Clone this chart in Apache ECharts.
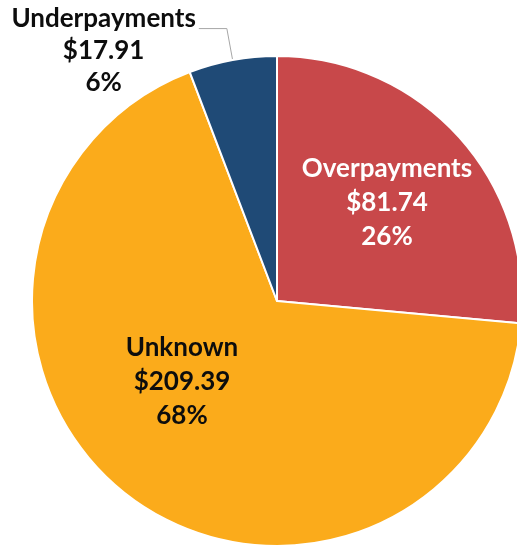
<!DOCTYPE html>
<html>
<head>
<meta charset="utf-8">
<script src="https://cdn.jsdelivr.net/npm/echarts@6/dist/echarts.min.js"></script>
<style>
  html, body { margin: 0; padding: 0; background: #fff; }
  #chart { width: 517px; height: 547px; }
</style>
</head>
<body>
<div id="chart"></div>
<script>
// payment categories and amounts
var categories = ['Overpayments', 'Unknown', 'Underpayments'];
var amounts = [81.74, 209.39, 17.91];
var percents = ['26%', '68%', '6%'];
var colors = ['#C8484A', '#FBAB1B', '#1F4A76'];
var textColors = ['#ffffff', '#0d0d0d', '#0d0d0d'];

var chart = echarts.init(document.getElementById('chart'));

var textStyle = { fontFamily: 'Lato', fontWeight: 'bold', fontSize: 26, lineHeight: 32, align: 'center', color: '#0d0d0d' };

var seriesData = categories.map(function (name, i) {
    var item = {
        name: name,
        value: amounts[i],
        itemStyle: { color: colors[i] },
        label: { color: textColors[i] }
    };
    if (i === 2) {
        // outside label; a spacer line on top lifts the first line to the leader line
        item.label = {
            position: 'outside',
            distanceToLabelLine: 3,
            formatter: function (p) {
                return '{s| }\n{t|' + p.name + '}\n{t|$' + p.value.toFixed(2) + '}\n{t|' + percents[p.dataIndex] + '}';
            },
            rich: {
                s: { lineHeight: 44, fontSize: 10 },
                t: textStyle
            }
        };
        item.labelLine = { show: true, length: 32, length2: 28, lineStyle: { color: '#A6A6A6', width: 1 } };
    }
    return item;
});

var option = {
    animation: false,
    series: [{
        type: 'pie',
        radius: 245,
        center: [277, 301],
        startAngle: 90,
        clockwise: true,
        avoidLabelOverlap: false,
        itemStyle: { borderColor: '#ffffff', borderWidth: 2 },
        label: {
            show: true,
            position: 'inside',
            fontFamily: 'Lato',
            fontWeight: 'bold',
            fontSize: 26,
            lineHeight: 34,
            align: 'center',
            formatter: function (p) {
                return p.name + '\n$' + p.value.toFixed(2) + '\n' + percents[p.dataIndex];
            }
        },
        labelLine: { show: false },
        labelLayout: function (p) {
            if (p.dataIndex === 0) return { x: 387, y: 203 };
            if (p.dataIndex === 1) return { x: 182, y: 382 };
            return {};
        },
        data: seriesData
    }]
};
chart.setOption(option);
</script>
</body>
</html>
